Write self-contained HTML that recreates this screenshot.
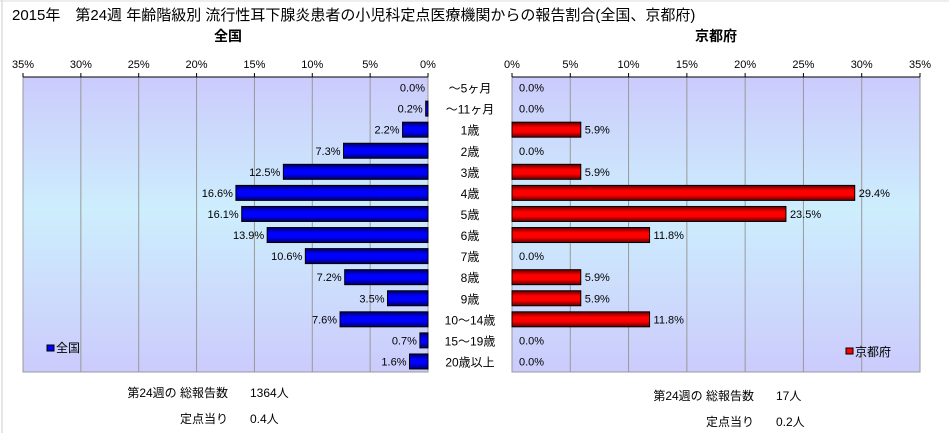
<!DOCTYPE html>
<html><head><meta charset="utf-8"><style>
body{margin:0;background:#fff;}
svg text{font-family:"Liberation Sans","Noto Sans CJK JP",sans-serif;}
</style></head><body>
<svg id="c" width="949" height="433" viewBox="0 0 949 433" xmlns="http://www.w3.org/2000/svg">
<defs>
<linearGradient id="bg" x1="0" y1="0" x2="0" y2="1">
<stop offset="0" stop-color="#cbcbfc"/><stop offset="0.45" stop-color="#cdeefd"/><stop offset="1" stop-color="#cbcbfc"/>
</linearGradient>
<linearGradient id="bb" x1="0" y1="0" x2="0" y2="1">
<stop offset="0" stop-color="#000060"/><stop offset="0.35" stop-color="#0000ff"/><stop offset="0.65" stop-color="#0000ff"/><stop offset="1" stop-color="#000060"/>
</linearGradient>
<linearGradient id="rb" x1="0" y1="0" x2="0" y2="1">
<stop offset="0" stop-color="#600000"/><stop offset="0.35" stop-color="#ff0000"/><stop offset="0.65" stop-color="#ff0000"/><stop offset="1" stop-color="#600000"/>
</linearGradient>
</defs>
<line x1="2" y1="0" x2="2" y2="433" stroke="#ccc"/>
<line x1="0" y1="1" x2="949" y2="1" stroke="#ddd"/>
<text x="12" y="20" font-size="15">2015年　第24週 年齢階級別 流行性耳下腺炎患者の小児科定点医療機関からの報告割合(全国、京都府)</text>
<text x="228" y="41" font-size="14" font-weight="bold" text-anchor="middle">全国</text>
<text x="716" y="41" font-size="14" font-weight="bold" text-anchor="middle">京都府</text>
<g id="g"></g>
<rect x="47" y="345" width="7" height="6" fill="#0000ff" stroke="#000"/>
<text x="56" y="352" font-size="12">全国</text>
<rect x="846" y="348" width="7" height="6" fill="#ff0000" stroke="#000"/>
<text x="855" y="356" font-size="12">京都府</text>
<text x="228" y="397" font-size="12" text-anchor="end">第24週の 総報告数</text>
<text x="250" y="397" font-size="12">1364人</text>
<text x="228" y="423" font-size="12" text-anchor="end">定点当り</text>
<text x="250" y="423" font-size="12">0.4人</text>
<text x="754" y="400" font-size="12" text-anchor="end">第24週の 総報告数</text>
<text x="776" y="400" font-size="12">17人</text>
<text x="754" y="426" font-size="12" text-anchor="end">定点当り</text>
<text x="776" y="426" font-size="12">0.2人</text>
</svg>
<script>
const categories=["～5ヶ月","～11ヶ月","1歳","2歳","3歳","4歳","5歳","6歳","7歳","8歳","9歳","10～14歳","15～19歳","20歳以上"];
const nationalValues=[0.0,0.2,2.2,7.3,12.5,16.6,16.1,13.9,10.6,7.2,3.5,7.6,0.7,1.6];
const kyotoValues=[0.0,0.0,5.9,0.0,5.9,29.4,23.5,11.8,0.0,5.9,5.9,11.8,0.0,0.0];
const tickValues=[0,5,10,15,20,25,30,35];
const NS="http://www.w3.org/2000/svg";
const g=document.getElementById('g');
const top0=77,bot0=372,maxV=35;
const L={zero:428,end:23},R={zero:512,end:920};
const rowH=(bot0-top0)/categories.length;
const xL=v=>L.zero-(L.zero-L.end)*v/maxV;
const xR=v=>R.zero+(R.end-R.zero)*v/maxV;
const yC=i=>top0+rowH*(i+0.5);
function mk(tag,attrs,parent){const e=document.createElementNS(NS,tag);for(const k in attrs)e.setAttribute(k,attrs[k]);(parent||g).appendChild(e);return e;}
function txt(x,y,s,anchor,size){const t=mk('text',{x:x,y:y,'font-size':size||11,'text-anchor':anchor||'start'});t.textContent=s;return t;}
// backgrounds
let b1=mk('rect',{x:L.end,y:top0,width:L.zero-L.end,height:bot0-top0,fill:'url(#bg)',stroke:'#999'});


let b2=mk('rect',{x:R.zero,y:top0,width:R.end-R.zero,height:bot0-top0,fill:'url(#bg)',stroke:'#999'});


tickValues.forEach(v=>{
  let a=mk('line',{x1:xL(v),x2:xL(v),y1:top0,y2:bot0,stroke:'#999'});
  
  
  let b=mk('line',{x1:xR(v),x2:xR(v),y1:top0,y2:bot0,stroke:'#999'});
  
  
  mk('line',{x1:xL(v),x2:xL(v),y1:top0-4,y2:top0,stroke:'#000'});
  mk('line',{x1:xR(v),x2:xR(v),y1:top0-4,y2:top0,stroke:'#000'});
  let t1=txt(xL(v),68,v+'%','middle');
  
  
  let t2=txt(xR(v),68,v+'%','middle');
  
  
});
mk('line',{x1:L.end,x2:L.zero,y1:top0,y2:top0,stroke:'#000'});
mk('line',{x1:R.zero,x2:R.end,y1:top0,y2:top0,stroke:'#000'});
const bh=15;
categories.forEach((c,i)=>{
  const y=yC(i);
  const cl=txt(470,y+5,c,'middle',12);
  
  
  const v=nationalValues[i];
  if(v>0){
    const r=mk('rect',{x:xL(v),y:y-bh/2,width:L.zero-xL(v),height:bh,fill:'url(#bb)',stroke:'#000'});
    
    
  }
  const l1=txt(xL(v)-3,y+4,v.toFixed(1)+'%','end');
  
  
  const k=kyotoValues[i];
  if(k>0){
    const r=mk('rect',{x:R.zero,y:y-bh/2,width:xR(k)-R.zero,height:bh,fill:'url(#rb)',stroke:'#000'});
    
    
  }
  const l2=txt(xR(k)+(k>0?4:7),y+4,k.toFixed(1)+'%','start');
  
  
});
</script>
</body></html>
